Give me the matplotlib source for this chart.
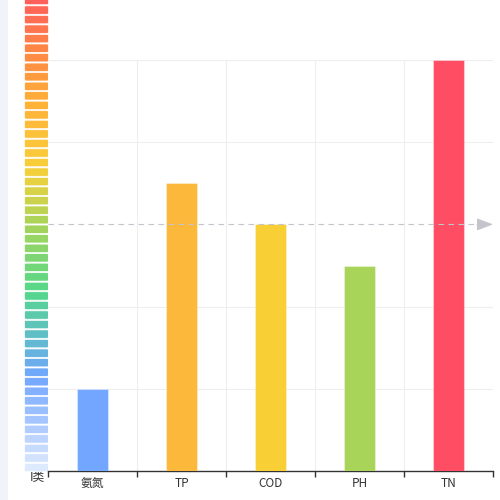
import numpy as np
import matplotlib
matplotlib.use('Agg')
from matplotlib import pyplot as plt
from matplotlib.patches import FancyBboxPatch, Rectangle
from matplotlib.colors import LinearSegmentedColormap

plt.rcParams['font.family'] = ['Noto Sans CJK SC', 'DejaVu Sans']

categories = ['氨氮', 'TP', 'COD', 'PH', 'TN']
values = [1.0, 3.5, 3.0, 2.5, 5.0]
bar_colors = ['#72a6ff', '#fcb83a', '#f8cf34', '#a8d45a', '#ff4d64']
mark_value = 3.0
y_max = 5
legend_label = 'I类'

# legend piece colours, bottom to top, with where they sit along the strip
legend_keys = ['#dde9fc', '#b5d0ff', '#72a6ff', '#60bccb', '#55d88a',
               '#a8d45a', '#f8d03a', '#ffb238', '#ff8845', '#ff5f5a']
legend_pos = [0.0, 0.071, 0.194, 0.276, 0.378, 0.52, 0.64, 0.776, 0.89, 1.0]
n_pieces = 50

fig = plt.figure(figsize=(5, 5), dpi=100)

# overlay in pixel coords for the side strip and the legend
ov = fig.add_axes([0, 0, 1, 1])
ov.set_xlim(0, 500)
ov.set_ylim(500, 0)
ov.axis('off')
ov.add_patch(Rectangle((0, 0), 8, 500, color='#f2f3f8', lw=0))
ov.text(37, 477, legend_label, ha='center', va='center', fontsize=8.5,
        color='#333333', zorder=1)
cmap = LinearSegmentedColormap.from_list('vm', list(zip(legend_pos, legend_keys)))
for k in range(n_pieces):
    top = 463.3 - 9.53 * k
    c = cmap(k / (n_pieces - 1))
    ov.add_patch(FancyBboxPatch((24.5, top), 24, 8.4,
                                boxstyle='round,pad=0,rounding_size=1.5',
                                fc=c, ec='white', lw=0.5, zorder=2))

ax = fig.add_axes([48 / 500, 29 / 500, 445 / 500, 411 / 500])
x = np.arange(len(categories))
ax.bar(x, values, width=0.34, color=bar_colors, zorder=3,
       edgecolor=(1, 1, 1, 0.35), linewidth=0.8)
ax.set_xlim(-0.5, len(categories) - 0.5)
ax.set_ylim(0, y_max)

for yv in range(1, y_max + 1):
    if yv != mark_value:
        ax.axhline(yv, color='#eeeeee', lw=0.8, zorder=1)
for xb in np.arange(0.5, len(categories) - 0.5, 1):
    ax.axvline(xb, color='#eeeeee', lw=0.8, zorder=1)
ax.axvline(len(categories) - 0.5, color='#eeeeee', lw=0.8, zorder=1)

# mark line
ax.plot([-0.5, 4.35], [mark_value, mark_value], color='#c4c4cc', lw=0.8,
        ls=(0, (5, 4)), zorder=4, clip_on=False)
ax.annotate('', xy=(4.5, mark_value), xytext=(4.32, mark_value),
            arrowprops=dict(arrowstyle='-|>,head_length=1.0,head_width=0.38',
                            color='#c4c4cc', lw=0.8, shrinkA=0, shrinkB=0),
            annotation_clip=False, zorder=4)

for s in ['top', 'right', 'left']:
    ax.spines[s].set_visible(False)
ax.spines['bottom'].set_color('#333333')
ax.spines['bottom'].set_linewidth(1)
ax.set_yticks([])
ax.set_xticks(x)
ax.set_xticklabels(categories, fontsize=8.5, color='#333333')
ax.tick_params(axis='x', which='major', length=0, pad=4)
ax.set_xticks(np.arange(-0.5, len(categories), 1), minor=True)
ax.tick_params(axis='x', which='minor', length=4, width=1, color='#333333')

fig.savefig('out.png', dpi=100)
